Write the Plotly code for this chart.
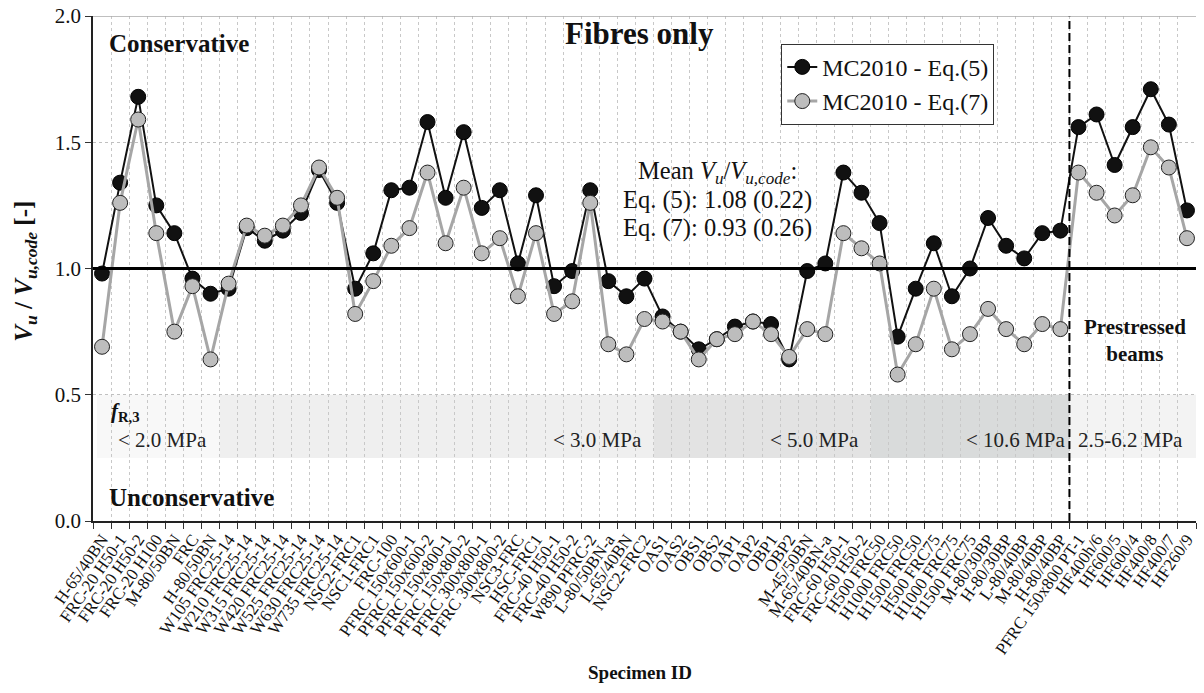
import plotly.graph_objects as go

specimens = [
    "H-65/40BN", "FRC-20 H50-1", "FRC-20 H50-2", "FRC-20 H100", "M-80/50BN", "FRC",
    "H-80/50BN", "W105 FRC25-14", "W210 FRC25-14", "W315 FRC25-14", "W420 FRC25-14",
    "W525 FRC25-14", "W630 FRC25-14", "W735 FRC25-14", "NSC2-FRC1", "NSC1-FRC1",
    "FRC-100", "PFRC 150x600-1", "PFRC 150x600-2", "PFRC 150x800-1", "PFRC 150x800-2",
    "PFRC 300x800-1", "PFRC 300x800-2", "NSC3-FRC", "HSC-FRC1", "FRC-40 H50-1",
    "FRC-40 H50-2", "W890 PFRC-2", "L-80/50BN-a", "L-65/40BN", "NSC2-FRC2",
    "OAS1", "OAS2", "OBS1", "OBS2", "OAP1", "OAP2", "OBP1", "OBP2",
    "M-45/50BN", "M-65/40BN-a", "FRC-60 H50-1", "FRC-60 H50-2", "H500 FRC50",
    "H1000 FRC50", "H1500 FRC50", "H500 FRC75", "H1000 FRC75", "H1500 FRC75",
    "M-80/30BP", "H-80/30BP", "L-80/40BP", "M-80/40BP", "H-80/40BP",
    "PFRC 150x800 PT-1", "HF400h/6", "HF600/5", "HF600/4", "HF400/8", "HF400/7", "HF260/9",
]

eq5 = [
    0.98, 1.34, 1.68, 1.25, 1.14, 0.96, 0.90, 0.92, 1.16, 1.11, 1.15,
    1.22, 1.39, 1.26, 0.92, 1.06, 1.31, 1.32, 1.58, 1.28, 1.54,
    1.24, 1.31, 1.02, 1.29, 0.93, 0.99, 1.31, 0.95, 0.89, 0.96,
    0.81, 0.75, 0.68, 0.72, 0.77, 0.79, 0.78, 0.64,
    0.99, 1.02, 1.38, 1.30, 1.18, 0.73, 0.92, 1.10, 0.89, 1.00,
    1.20, 1.09, 1.04, 1.14, 1.15,
    1.56, 1.61, 1.41, 1.56, 1.71, 1.57, 1.23,
]

eq7 = [
    0.69, 1.26, 1.59, 1.14, 0.75, 0.93, 0.64, 0.94, 1.17, 1.13, 1.17,
    1.25, 1.40, 1.28, 0.82, 0.95, 1.09, 1.16, 1.38, 1.10, 1.32,
    1.06, 1.12, 0.89, 1.14, 0.82, 0.87, 1.26, 0.70, 0.66, 0.80,
    0.79, 0.75, 0.64, 0.72, 0.74, 0.79, 0.74, 0.65,
    0.76, 0.74, 1.14, 1.08, 1.02, 0.58, 0.70, 0.92, 0.68, 0.74,
    0.84, 0.76, 0.70, 0.78, 0.76,
    1.38, 1.30, 1.21, 1.29, 1.48, 1.40, 1.12,
]

# fR,3 groups: label, index of first and last specimen in group
band_labels = ["< 2.0 MPa", "< 3.0 MPa", "< 5.0 MPa", "< 10.6 MPa", "2.5-6.2 MPa"]
band_first = [0, 7, 31, 43, 54]
band_last = [6, 30, 42, 53, 60]
band_colors = ["#f8f8f8", "#efefef", "#e3e3e3", "#d9dbdb", "#f3f3f3"]
prestressed_start = 54

mean_lines = ["Mean <i>V</i><sub><i>u</i></sub>/<i>V</i><sub><i>u,code</i></sub>:",
              "Eq. (5): 1.08 (0.22)", "Eq. (7): 0.93 (0.26)"]

FONT = "Liberation Serif"

fig = go.Figure()

fig.add_trace(go.Scatter(
    x=specimens, y=eq5, mode="lines+markers", name="MC2010 - Eq.(5)",
    line=dict(color="#111111", width=2),
    marker=dict(size=15, color="#111111", line=dict(color="#000000", width=1)),
))
fig.add_trace(go.Scatter(
    x=specimens, y=eq7, mode="lines+markers", name="MC2010 - Eq.(7)",
    line=dict(color="#a6a6a6", width=3),
    marker=dict(size=15, color="#bdbdbd", line=dict(color="#222222", width=1)),
))

shapes = []
annotations = []
label_shift = [0.0, -0.05, -0.05, 0.35, -0.1]
for i, (lab, a, b, c) in enumerate(zip(band_labels, band_first, band_last, band_colors)):
    x0 = a - 0.5 if i > 0 else a - 0.28
    shapes.append(dict(type="rect", xref="x", yref="y", x0=x0, x1=b + 0.5,
                       y0=0.25, y1=0.5, fillcolor=c, line=dict(width=0), layer="below"))
    if i == 0:
        annotations.append(dict(xref="x", yref="y", x=a + 0.75, y=0.32, text=lab,
                                showarrow=False, xanchor="left",
                                font=dict(family=FONT, size=21, color="#222")))
    elif i == 4:
        annotations.append(dict(xref="x", yref="y", x=(a + b) / 2 + label_shift[i], y=0.32,
                                text=lab, showarrow=False, xanchor="center",
                                font=dict(family=FONT, size=21, color="#222")))
    else:
        annotations.append(dict(xref="x", yref="y", x=b + label_shift[i], y=0.32, text=lab,
                                showarrow=False, xanchor="right",
                                font=dict(family=FONT, size=21, color="#222")))

# reference line at 1.0
shapes.append(dict(type="line", xref="paper", yref="y", x0=0, x1=1, y0=1, y1=1,
                   line=dict(color="#000", width=3)))
# dashed separation to prestressed beams
shapes.append(dict(type="line", xref="x", yref="y", x0=prestressed_start - 0.5,
                   x1=prestressed_start - 0.5, y0=0, y1=2,
                   line=dict(color="#000", width=2, dash="8px,4px")))
# top border
shapes.append(dict(type="line", xref="paper", yref="y", x0=0, x1=1, y0=2, y1=2,
                   line=dict(color="#aaaaaa", width=1.5)))

for txt, yv in zip(mean_lines, [1.38, 1.27, 1.16]):
    annotations.append(dict(xref="paper", yref="y", x=0.566, y=yv, text=txt,
                            showarrow=False, xanchor="center", yanchor="middle",
                            font=dict(family=FONT, size=24.5, color="#111")))

annotations += [
    dict(xref="x", yref="y", x=0.4, y=0.43, text="<b><i>f</i><sub>R,3</sub></b>",
         showarrow=False, xanchor="left", font=dict(family=FONT, size=21, color="#111")),
    dict(xref="paper", yref="y", x=0.4955, y=1.93, text="<b>Fibres only</b>", showarrow=False,
         xanchor="center", font=dict(family=FONT, size=31, color="#111")),
    dict(xref="paper", yref="y", x=0.0127, y=1.893, text="<b>Conservative</b>", showarrow=False,
         xanchor="left", font=dict(family=FONT, size=25, color="#111")),
    dict(xref="paper", yref="y", x=0.0127, y=0.095, text="<b>Unconservative</b>", showarrow=False,
         xanchor="left", font=dict(family=FONT, size=25, color="#111")),
    dict(xref="paper", yref="y", x=0.945, y=0.715, text="<b>Prestressed<br>beams</b>",
         showarrow=False, xanchor="center", font=dict(family=FONT, size=21, color="#111")),
    dict(xref="paper", yref="paper", x=-0.062, y=0.495, textangle=-90,
         text="<b><i>V</i><sub><i>u</i></sub> / <i>V</i><sub><i>u,code</i></sub> [-]</b>",
         showarrow=False, xanchor="center", yanchor="middle",
         font=dict(family=FONT, size=25, color="#111")),
    dict(xref="paper", yref="paper", x=0.496, y=-0.30, text="<b>Specimen ID</b>",
         showarrow=False, xanchor="center", yanchor="middle",
         font=dict(family=FONT, size=19, color="#111")),
]

fig.update_layout(
    width=1204, height=693,
    margin=dict(l=93, r=8, t=16, b=172),
    paper_bgcolor="white", plot_bgcolor="white",
    font=dict(family=FONT, color="#111"),
    shapes=shapes, annotations=annotations,
    showlegend=True,
    legend=dict(x=0.624, y=0.945, xanchor="left", yanchor="top",
                bgcolor="white", bordercolor="#333", borderwidth=1,
                font=dict(family=FONT, size=24, color="#111"),
                tracegroupgap=0, itemwidth=30),
    xaxis=dict(
        type="category", categoryorder="array", categoryarray=specimens,
        range=[-0.5, len(specimens) - 0.5], automargin=False,
        tickmode="linear", tick0=0, dtick=1,
        tickson="boundaries", ticks="outside", ticklen=6, tickcolor="#333",
        tickangle=-55, tickfont=dict(family=FONT, size=17, color="#111"),
        showgrid=True, gridcolor="#c8c8c8", griddash="dot", gridwidth=1,
        showline=True, linecolor="#222", linewidth=1.5,
    ),
    yaxis=dict(
        range=[0, 2], dtick=0.5, tickformat=".1f", automargin=False,
        ticks="outside", ticklen=6, tickcolor="#333",
        tickfont=dict(family=FONT, size=21, color="#111"),
        showgrid=True, gridcolor="#c0c0c0", griddash="dot", gridwidth=1,
        showline=True, linecolor="#222", linewidth=1.5, zeroline=False,
    ),
)

fig.write_html("out.html", config={"displayModeBar": False},
               post_script="document.body.style.margin='0px';")
